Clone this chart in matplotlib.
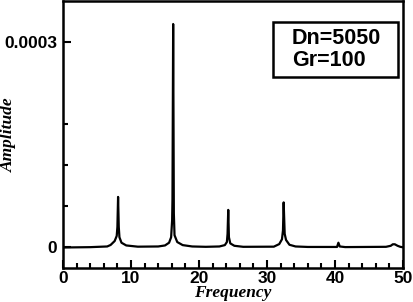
"""Amplitude spectrum at Dn=5050, Gr=100."""

import numpy as np
import matplotlib
matplotlib.use("Agg")
import matplotlib.pyplot as plt
from matplotlib.patches import Rectangle
from matplotlib.ticker import MultipleLocator, FixedLocator

# ---- data (amplitude in units of 1e-6) ----
freq = [0.0, 4.0, 6.5, 7.0, 7.6, 7.9, 8.0, 8.1, 8.2, 8.3, 8.6, 9.3, 11.0,
        14.0, 15.0, 15.6, 15.9, 16.05, 16.1, 16.2, 16.3, 16.4, 16.8, 17.6, 19.0, 21.0,
        23.0, 23.8, 24.1, 24.2, 24.3, 24.4, 24.6, 25.2, 26.5,
        31.0, 31.8, 32.2, 32.35, 32.45, 32.6, 32.8, 33.3, 34.2, 36.0,
        40.3, 40.5, 40.7, 41.5,
        47.5, 48.2, 48.5, 48.8, 49.2, 49.6, 50.0]
amp_1e6 = [0.0, 0.5, 1.5, 3.7, 9.5, 17.0, 30.0, 74.0, 30.0, 15.0, 7.0, 3.0, 1.2,
           1.5, 3.0, 7.0, 15.0, 40.0, 71.0, 327.0, 50.0, 18.0, 8.0, 3.5, 1.5, 1.0,
           1.5, 3.5, 8.0, 20.0, 55.0, 15.0, 6.0, 2.5, 1.0,
           1.2, 5.0, 12.0, 25.0, 66.0, 20.0, 11.0, 4.0, 1.5, 0.8,
           0.8, 7.0, 1.5, 0.6,
           1.0, 2.5, 4.7, 4.7, 2.5, 1.0, 0.3]

label_lines = ["Dn=5050", "Gr=100"]

amp = np.array(amp_1e6) * 1e-6

fig = plt.figure(figsize=(4.13, 3.02), dpi=100)
ax = fig.add_axes([63 / 413, 1 - 268 / 302, 340 / 413, 267 / 302])

ax.plot(freq, amp, color="black", lw=1.6)

ax.set_xlim(0, 50)
ax.set_ylim(-3.0e-5, 3.607e-4)

ax.xaxis.set_major_locator(MultipleLocator(10))
ax.xaxis.set_minor_locator(MultipleLocator(2))
ax.yaxis.set_major_locator(FixedLocator([0, 3e-4]))
ax.yaxis.set_minor_locator(FixedLocator([6e-5, 1.2e-4, 1.8e-4]))
ax.set_yticklabels(["0", "0.0003"])

for lab in ax.get_xticklabels() + ax.get_yticklabels():
    lab.set_fontfamily("Liberation Sans")
    lab.set_fontweight("bold")
    lab.set_fontsize(12.5)

ax.tick_params(which="both", direction="in", top=False, right=False, width=1.5)
ax.tick_params(which="major", length=6)
ax.tick_params(which="minor", length=3.5)
ax.tick_params(axis="x", which="major", pad=2)
ax.tick_params(axis="y", which="major", pad=4)

for sp in ax.spines.values():
    sp.set_linewidth(1.8)

ax.set_xlabel("Frequency", family="Liberation Serif", style="italic",
              weight="bold", size=12.5, va="baseline")
ax.xaxis.set_label_coords(0.5, -0.11)
ax.set_ylabel("Amplitude", family="Liberation Serif", style="italic",
              weight="bold", size=12.5, va="center")
ax.yaxis.set_label_coords(-0.16, 0.5)

# annotation box
ax.add_patch(Rectangle((0.6176, 0.715), 0.3674, 0.206, transform=ax.transAxes,
                       fill=False, lw=1.8, ec="black"))
ax.text(0.6735, 0.861, label_lines[0], transform=ax.transAxes, va="center",
        ha="left", family="Liberation Sans", weight="bold", size=15.5)
ax.text(0.6735, 0.779, label_lines[1], transform=ax.transAxes, va="center",
        ha="left", family="Liberation Sans", weight="bold", size=15.5)

fig.savefig("out.png", dpi=100)
